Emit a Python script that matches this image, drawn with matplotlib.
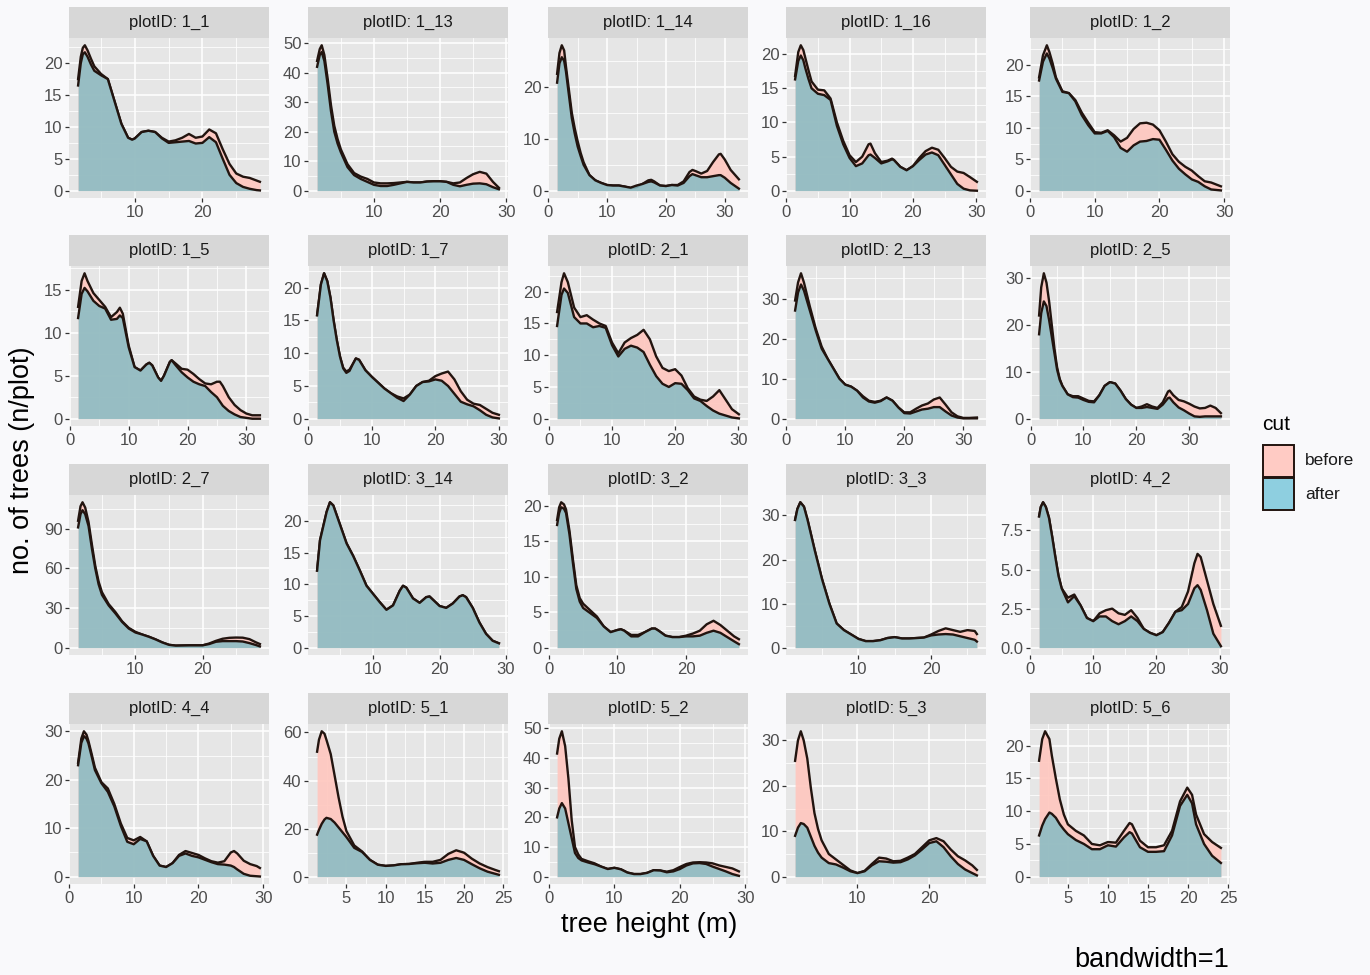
import matplotlib
matplotlib.use("Agg")
import matplotlib.pyplot as plt
from matplotlib.patches import Rectangle

plt.rcParams["font.family"] = ["Liberation Sans", "DejaVu Sans"]

# ---- density curves: height (m), before, after ----
h_1_1 = [1.6, 2, 2.3, 2.6, 3, 3.5, 4, 5, 6, 7, 8, 9, 9.6, 10, 11, 12, 13, 14, 15, 16, 17, 18, 19, 20, 21, 22, 23, 24, 25, 26, 27, 28, 28.5]
b_1_1 = [17.5, 21, 22.4, 22.8, 22, 20.7, 19.5, 18.3, 17.5, 14, 10.5, 8.3, 8.0, 8.2, 9.2, 9.4, 9.2, 8.3, 7.7, 7.9, 8.3, 8.9, 8.3, 8.5, 9.6, 9.0, 6.5, 4.2, 2.7, 2.2, 2.0, 1.6, 1.4]
a_1_1 = [16.5, 20, 21.4, 21.7, 21, 19.8, 18.8, 18.1, 17.5, 14, 10.5, 8.3, 8.0, 8.2, 9.2, 9.4, 9.2, 8.2, 7.5, 7.6, 7.7, 7.8, 7.4, 7.5, 8.4, 7.6, 5.0, 2.5, 1.2, 0.6, 0.3, 0.1, 0.05]

h_1_13 = [1.4, 1.8, 2.1, 2.5, 3, 3.5, 4, 4.5, 5, 6, 7, 8, 9, 10, 11, 12, 13, 14, 15, 16, 17, 18, 19, 20, 21, 22, 23, 24, 25, 26, 27, 28, 28.9]
b_1_13 = [44, 48, 49.3, 46, 38, 29, 22, 17.5, 14, 9, 6, 4.8, 4.0, 2.8, 2.5, 2.5, 2.6, 2.8, 3.0, 2.8, 2.8, 3.1, 3.2, 3.2, 3.0, 2.5, 2.8, 4.3, 5.6, 6.4, 5.8, 3.0, 1.0]
a_1_13 = [42, 46, 47, 44, 36, 27, 20, 16, 13, 8, 5.3, 4.0, 3.0, 2.0, 1.6, 1.6, 2.0, 2.5, 3.0, 2.8, 2.8, 3.1, 3.2, 3.2, 3.0, 2.0, 1.5, 2.0, 2.4, 2.5, 2.2, 1.2, 0.5]

h_1_14 = [1.5, 1.9, 2.3, 2.7, 3, 3.5, 4, 4.5, 5, 5.5, 6, 7, 8, 9, 10, 11, 12, 13, 14, 15, 16, 17, 17.5, 18, 19, 20, 21, 22, 23, 24, 24.5, 25, 26, 27, 28, 29, 29.3, 30, 31, 32.4]
b_1_14 = [22.5, 26.5, 28, 27, 24, 19.5, 15, 12, 9.5, 7.3, 5.5, 3, 2.0, 1.5, 1.1, 1.0, 1.0, 0.8, 0.5, 0.7, 1.3, 2.0, 2.1, 1.8, 1.0, 0.9, 1.1, 1.1, 1.8, 3.6, 4.0, 3.8, 3.3, 3.8, 5.5, 7.0, 7.1, 6.0, 4.0, 2.2]
a_1_14 = [20.8, 24.5, 25.7, 25, 23, 18.5, 14, 11, 8.5, 6.7, 5, 3, 2.0, 1.5, 1.1, 1.0, 1.0, 0.8, 0.6, 1.0, 1.3, 1.7, 1.8, 1.6, 1.0, 0.9, 1.1, 1.0, 1.5, 2.8, 3.2, 3.0, 2.6, 2.6, 2.8, 3.0, 3.0, 2.5, 1.5, 0.4]

h_1_16 = [1.4, 1.9, 2.3, 2.7, 3, 3.5, 4, 5, 6, 7, 8, 9, 10, 11, 12, 13, 13.3, 14, 15, 16, 16.7, 17, 18, 19, 20, 21, 22, 23, 24, 25, 26, 27, 28, 29, 30.1]
b_1_16 = [16.8, 20.3, 21.3, 20.6, 19.5, 17.7, 16, 14.8, 14.7, 13.5, 10, 7.3, 5.2, 4.2, 5.0, 6.8, 6.9, 5.5, 4.2, 4.4, 4.7, 4.5, 3.5, 3.0, 3.6, 4.8, 5.8, 6.3, 6.0, 4.8, 3.5, 2.8, 2.6, 2.0, 1.3]
a_1_16 = [16.3, 19.0, 19.8, 19.1, 18, 16.4, 15, 14.2, 14.0, 13.3, 9.5, 6.8, 4.8, 3.6, 4.0, 5.2, 5.3, 4.8, 4.0, 4.3, 4.6, 4.5, 3.5, 3.0, 3.6, 4.5, 5.3, 5.6, 5.2, 3.8, 2.4, 1.0, 0.3, 0.05, 0.0]

h_1_2 = [1.4, 2, 2.6, 3, 3.5, 4, 5, 6, 7, 8, 9, 10, 11, 12, 13, 14, 15, 16, 17, 18, 19, 20, 21, 22, 23, 24, 25, 26, 27, 28, 29.5]
b_1_2 = [18.0, 21.5, 23.1, 22, 20.2, 18, 15.8, 15.5, 14.4, 12.4, 10.8, 9.3, 9.2, 9.6, 8.8, 7.8, 8.4, 9.8, 10.7, 10.8, 10.5, 9.6, 7.8, 5.8, 4.6, 3.8, 3.2, 2.3, 1.5, 1.3, 0.7]
a_1_2 = [17.5, 20.5, 21.8, 21, 19.5, 17.8, 15.7, 15.5, 14.2, 12, 10.4, 9.1, 9.1, 9.5, 8.5, 6.8, 6.2, 7.2, 7.8, 7.9, 8.2, 8.1, 6.5, 4.8, 3.5, 2.6, 1.8, 1.4, 0.7, 0.2, 0.05]

h_1_5 = [1.4, 2, 2.5, 3, 4, 5, 6, 7, 8, 8.5, 9, 10, 11, 12, 13, 13.5, 14, 15, 15.5, 16, 17, 17.3, 18, 19, 20, 21, 22, 23, 24, 25, 25.5, 26, 27, 28, 29, 30, 31, 32.3]
b_1_5 = [13.0, 16.0, 16.9, 16.0, 14.6, 13.8, 13.0, 11.8, 12.4, 12.9, 12.2, 8.5, 6.0, 5.6, 6.3, 6.5, 6.2, 4.8, 4.4, 5.0, 6.6, 6.8, 6.4, 5.8, 5.7, 5.2, 4.6, 4.1, 4.0, 4.3, 4.3, 3.8, 2.5, 1.6, 1.0, 0.6, 0.4, 0.4]
a_1_5 = [11.7, 14.5, 15.2, 14.8, 13.7, 13.1, 12.8, 11.5, 11.6, 12.0, 11.7, 8.3, 6.0, 5.6, 6.3, 6.5, 6.2, 4.8, 4.4, 5.0, 6.6, 6.8, 6.2, 5.4, 4.8, 4.3, 4.0, 3.8, 3.1, 2.5, 2.0, 1.5, 0.9, 0.5, 0.2, 0.1, 0.0, 0.0]

h_1_7 = [1.4, 2, 2.5, 3, 3.5, 4, 4.5, 5, 5.5, 6, 6.5, 7, 7.5, 8, 9, 10, 11, 12, 13, 14, 15, 16, 17, 18, 19, 20, 21, 22, 23, 24, 25, 26, 27, 28, 29, 30]
b_1_7 = [15.8, 20.5, 22.2, 21, 18.5, 15, 12, 9.5, 7.8, 7.2, 7.5, 8.3, 9.2, 9.0, 7.4, 6.4, 5.5, 4.6, 3.9, 3.4, 3.1, 3.7, 5.0, 5.6, 5.8, 6.5, 6.9, 7.2, 6.0, 4.2, 2.9, 2.3, 2.1, 1.5, 0.9, 0.6]
a_1_7 = [15.8, 20.5, 22.2, 21, 18.5, 15, 12, 9.5, 7.7, 7.0, 7.3, 8.3, 9.2, 9.0, 7.4, 6.4, 5.5, 4.6, 3.9, 3.2, 2.7, 3.7, 5.0, 5.6, 5.7, 6.0, 5.8, 5.0, 3.8, 2.6, 2.2, 1.9, 1.3, 0.6, 0.2, 0.05]

h_2_1 = [1.3, 2, 2.4, 3, 4, 5, 6, 7, 8, 9, 10, 11, 12, 13, 14, 15, 16, 17, 18, 19, 20, 21, 22, 23, 24, 25, 26, 27, 28, 29, 30.1]
b_2_1 = [16.8, 21.5, 22.9, 21.5, 17.5, 16.0, 16.3, 15.6, 15.0, 14.6, 12.0, 10.3, 12.0, 12.7, 13.2, 14.0, 12.5, 9.8, 8.0, 7.5, 7.8, 6.8, 4.8, 3.5, 3.0, 2.8, 3.5, 4.5, 3.0, 1.5, 0.7]
a_2_1 = [14.6, 19.5, 20.5, 19.8, 16.0, 15.0, 15.0, 14.4, 14.6, 14.3, 11.6, 9.8, 11.0, 11.5, 11.2, 10.5, 8.5, 6.7, 5.5, 5.0, 5.6, 5.5, 4.5, 3.2, 2.8, 2.0, 1.3, 0.8, 0.5, 0.2, 0.05]

h_2_13 = [1.5, 2, 2.5, 3, 3.5, 4, 5, 6, 7, 8, 9, 10, 11, 12, 13, 14, 15, 16, 17, 18, 19, 20, 21, 22, 23, 24, 25, 26, 27, 28, 29, 30, 31, 32.3]
b_2_13 = [29.5, 34, 36.3, 34, 31, 28, 22.5, 18, 15, 12.5, 10, 8.5, 8.0, 7.0, 5.6, 4.5, 4.2, 4.5, 5.3, 4.5, 2.8, 1.6, 1.6, 2.5, 3.3, 3.8, 4.8, 5.3, 3.5, 1.6, 0.6, 0.2, 0.2, 0.3]
a_2_13 = [27, 31.5, 33.5, 32, 29.5, 27, 22, 17.5, 15, 12.5, 10, 8.5, 8.0, 7.0, 5.3, 4.3, 4.0, 4.4, 5.3, 4.5, 2.8, 1.4, 1.3, 1.8, 2.3, 2.5, 2.9, 2.9, 1.8, 0.8, 0.3, 0.1, 0.1, 0.1]

h_2_5 = [1.6, 2, 2.5, 3, 3.5, 4, 4.5, 5, 5.5, 6, 7, 8, 9, 10, 11, 12, 13, 14, 15, 16, 17, 18, 19, 20, 21, 22, 23, 24, 25, 26, 26.3, 27, 28, 29, 30, 31, 32, 33, 34, 35, 36]
b_2_5 = [22, 28, 31, 29, 25, 20, 15, 11, 8.5, 7, 5.2, 4.8, 4.8, 4.3, 3.8, 3.7, 5.0, 7.0, 7.8, 7.5, 6.0, 4.2, 3.0, 2.3, 2.6, 3.1, 2.6, 2.3, 3.5, 5.8, 6.0, 5.0, 4.0, 3.7, 3.2, 2.6, 2.2, 2.3, 2.8, 2.3, 1.2]
a_2_5 = [18, 22.5, 25, 24, 21, 17.5, 14, 10.5, 8.3, 7, 5.2, 4.6, 4.5, 4.0, 3.6, 3.5, 5.0, 7.0, 7.8, 7.5, 6.0, 4.2, 3.0, 2.3, 2.3, 2.5, 2.3, 2.1, 3.0, 4.4, 4.5, 3.5, 2.4, 1.8, 1.1, 0.5, 0.4, 0.5, 0.5, 0.5, 0.5]

h_2_7 = [1.44, 1.8, 2.1, 2.5, 3, 3.5, 4, 4.5, 5, 6, 7, 8, 9, 10, 11, 12, 13, 14, 15, 16, 17, 18, 19, 20, 21, 22, 23, 24, 25, 26, 27, 28, 28.56]
b_2_7 = [96, 107, 110, 106, 95, 78, 62, 50, 42, 33, 27, 20, 15, 12, 10, 8.3, 6.3, 4.0, 2.2, 1.6, 1.7, 1.8, 1.8, 1.8, 3.2, 5.2, 6.8, 7.5, 7.7, 7.6, 6.5, 4.0, 2.8]
a_2_7 = [91, 101, 104, 101, 92, 75, 60, 48, 40, 32, 26, 19.5, 14.5, 11.5, 10, 8.3, 6.3, 4.0, 2.2, 1.6, 1.7, 1.8, 1.8, 1.8, 2.8, 4.5, 5.0, 5.0, 5.0, 4.7, 3.5, 2.0, 1.0]

h_3_14 = [1.56, 2, 3, 3.5, 4, 5, 6, 7, 8, 9, 10, 11, 12, 13, 14, 14.5, 15, 16, 17, 18, 18.5, 19, 20, 21, 22, 23, 23.5, 24, 25, 26, 27, 28, 28.94]
b_3_14 = [12.2, 17, 21.5, 23, 22.5, 19.5, 16.5, 14.5, 12.2, 9.8, 8.5, 7.2, 6.0, 6.7, 9.0, 9.8, 9.5, 7.8, 7.1, 8.0, 8.1, 7.6, 6.6, 6.3, 7.0, 8.1, 8.3, 8.0, 6.3, 4.0, 2.2, 1.1, 0.7]
a_3_14 = [12.2, 17, 21.5, 23, 22.5, 19.5, 16.5, 14.5, 12.2, 9.8, 8.5, 7.2, 6.0, 6.7, 9.0, 9.8, 9.5, 7.8, 7.1, 8.0, 8.1, 7.6, 6.6, 6.3, 7.0, 8.1, 8.3, 8.0, 6.3, 4.0, 2.2, 1.1, 0.7]

h_3_2 = [1.2, 1.5, 1.8, 2.2, 2.5, 3, 3.5, 4, 4.5, 5, 6, 7, 8, 9, 10, 10.5, 11, 12, 13, 14, 15, 15.5, 16, 17, 18, 19, 20, 21, 22, 23, 24, 25, 26, 27, 27.7]
b_3_2 = [18.0, 19.8, 20.5, 20.2, 19.5, 16.5, 12.5, 8.8, 7.0, 6.2, 5.3, 4.4, 3.0, 2.2, 2.5, 2.6, 2.4, 1.8, 1.8, 2.2, 2.7, 2.7, 2.4, 1.7, 1.5, 1.5, 1.7, 2.0, 2.4, 3.3, 3.8, 3.2, 2.4, 1.6, 1.2]
a_3_2 = [17.3, 19.0, 19.8, 19.6, 19.0, 16.0, 12.0, 8.3, 6.5, 5.6, 4.9, 4.2, 3.0, 2.2, 2.5, 2.6, 2.4, 1.6, 1.6, 2.2, 2.7, 2.7, 2.4, 1.7, 1.5, 1.5, 1.6, 1.6, 1.7, 2.1, 2.4, 2.1, 1.5, 0.9, 0.5]

h_3_3 = [1.28, 1.6, 2, 2.5, 3, 4, 5, 6, 7, 8, 9, 10, 11, 12, 13, 14, 15, 16, 17, 18, 19, 20, 21, 22, 23, 24, 25, 26, 26.3]
b_3_3 = [29, 31.5, 33, 32, 29, 22, 15.5, 10, 5.5, 4.0, 3.0, 2.0, 1.5, 1.5, 1.7, 2.2, 2.4, 2.1, 2.1, 2.2, 2.3, 3.0, 3.8, 4.4, 4.0, 3.6, 4.0, 3.8, 3.1]
a_3_3 = [29, 31.5, 33, 32, 29, 22, 15.5, 10, 5.5, 4.0, 3.0, 2.0, 1.5, 1.5, 1.7, 2.2, 2.4, 2.1, 2.1, 2.2, 2.3, 2.8, 3.0, 3.1, 3.0, 2.6, 2.2, 1.8, 1.4]

h_4_2 = [1.43, 1.7, 2.06, 2.5, 3, 3.5, 4, 4.5, 5, 6, 7, 8, 9, 10, 11, 12, 13, 14, 15, 16, 17, 18, 19, 20, 21, 22, 23, 24, 25, 26, 26.5, 27, 28, 29, 30.2]
b_4_2 = [8.4, 9.0, 9.3, 9.0, 8.3, 7.1, 5.8, 4.6, 3.8, 3.2, 3.4, 2.7, 1.9, 1.7, 2.2, 2.4, 2.5, 2.2, 2.1, 2.4, 1.9, 1.2, 0.95, 0.8, 1.0, 1.6, 2.3, 2.6, 3.6, 5.4, 6.0, 5.8, 4.3, 2.8, 1.4]
a_4_2 = [8.4, 9.0, 9.3, 9.0, 8.3, 7.1, 5.8, 4.6, 3.8, 2.9, 3.3, 2.7, 1.9, 1.7, 2.0, 2.0, 1.7, 1.5, 1.7, 2.0, 1.7, 1.2, 0.95, 0.8, 1.0, 1.6, 2.3, 2.4, 2.8, 3.8, 4.0, 3.7, 2.4, 0.9, 0.1]

h_4_4 = [1.4, 1.9, 2.3, 2.7, 3, 3.5, 4, 5, 6, 7, 8, 9, 10, 11, 12, 13, 14, 15, 16, 17, 18, 19, 20, 21, 22, 23, 24, 25, 25.5, 26, 27, 28, 29, 29.5]
b_4_4 = [23.5, 28.5, 30, 29.3, 28, 25.3, 22.5, 19.5, 18.2, 15, 11, 8, 7.5, 8.2, 7.3, 4.3, 2.3, 2.0, 2.8, 4.5, 5.3, 4.9, 4.5, 3.8, 3.2, 2.9, 3.2, 5.0, 5.3, 4.8, 3.3, 2.6, 2.2, 1.8]
a_4_4 = [23, 27.6, 29, 28.5, 27.5, 24.8, 22, 19.3, 17.5, 14.5, 10.5, 7.2, 6.7, 7.8, 7.3, 4.3, 2.3, 2.0, 2.8, 4.3, 4.8, 4.3, 4.0, 3.5, 3.0, 2.6, 2.5, 2.3, 2.0, 1.5, 0.6, 0.2, 0.1, 0.05]

h_5_1 = [1.26, 1.5, 1.85, 2.2, 2.45, 3, 3.5, 4, 4.5, 5, 6, 7, 8, 9, 10, 11, 12, 13, 14, 15, 16, 17, 18, 19, 20, 21, 22, 23, 24, 24.45]
b_5_1 = [52, 57, 60.5, 59.5, 57, 51, 42, 33, 25, 19, 13, 10.5, 7, 5, 4.5, 4.7, 5.2, 5.3, 5.8, 6.2, 6.2, 7, 9.5, 11, 10, 7.5, 5.5, 4.0, 2.8, 2.3]
a_5_1 = [17.5, 19.5, 22, 23.8, 24.5, 24, 22.5, 20.5, 18.5, 16.5, 12, 10.3, 7, 5, 4.5, 4.7, 5.2, 5.3, 5.6, 5.8, 5.5, 5.8, 7.0, 7.8, 7.0, 5.2, 3.5, 2.1, 1.2, 0.8]

h_5_2 = [1.27, 1.6, 2.0, 2.5, 3, 3.5, 4, 4.5, 5, 6, 7, 8, 9, 10, 11, 12, 13, 14, 15, 16, 17, 18, 19, 20, 21, 22, 23, 24, 25, 26, 27, 28, 29]
b_5_2 = [41.5, 46.5, 49, 44, 33, 19, 10, 7.5, 6, 5.2, 4.5, 3.4, 2.6, 3.0, 2.5, 1.4, 0.9, 0.9, 1.3, 2.2, 2.1, 1.7, 2.2, 3.3, 4.3, 4.8, 4.9, 4.8, 4.5, 3.8, 3.3, 2.8, 1.8]
a_5_2 = [20, 23, 24.8, 23, 18, 13, 8, 6.3, 5.5, 4.8, 4.2, 3.4, 2.6, 3.0, 2.5, 1.4, 0.9, 0.9, 1.3, 2.2, 2.1, 1.5, 1.8, 2.6, 3.8, 4.5, 4.6, 4.3, 3.4, 2.6, 1.8, 0.9, 0.3]

h_5_3 = [1.3, 1.7, 2.1, 2.5, 3, 3.5, 4, 4.5, 5, 6, 7, 8, 9, 10, 11, 12, 13, 14, 15, 16, 17, 18, 19, 20, 21, 22, 23, 24, 25, 26, 26.65]
b_5_3 = [25.5, 30, 32, 30, 26, 19.5, 14, 10.5, 8, 5.0, 3.8, 2.6, 1.4, 0.8, 1.3, 2.8, 4.2, 4.0, 3.4, 3.5, 4.2, 5.0, 6.5, 8.0, 8.5, 7.8, 6.0, 4.5, 3.6, 2.5, 1.5]
a_5_3 = [9, 10.8, 11.8, 11.6, 10.8, 8.8, 6.8, 5.3, 4.2, 3.0, 2.7, 2.0, 1.2, 0.8, 1.2, 2.5, 3.4, 3.3, 3.1, 3.2, 3.8, 4.7, 6.0, 7.4, 7.8, 6.5, 4.5, 2.8, 1.6, 0.8, 0.3]

h_5_6 = [1.41, 1.8, 2.16, 2.7, 3, 3.5, 4, 4.5, 5, 6, 7, 8, 9, 10, 11, 12, 12.7, 13, 14, 15, 16, 17, 18, 19, 19.9, 20.5, 21, 22, 23, 24.1]
b_5_6 = [17.7, 21, 22.2, 21, 18.5, 15, 11.8, 9.5, 8.0, 7.0, 6.3, 5.0, 4.8, 5.3, 5.2, 7.0, 8.2, 8.0, 5.5, 4.5, 4.5, 4.8, 7.0, 11.5, 13.6, 12.5, 9.5, 6.5, 5.3, 4.4]
a_5_6 = [6.3, 7.8, 8.8, 9.8, 9.6, 9.0, 8.0, 7.2, 6.5, 5.6, 5.0, 4.2, 4.2, 4.8, 4.6, 6.0, 6.8, 6.6, 4.5, 3.8, 3.8, 3.9, 6.3, 10.8, 12.5, 11.2, 8.0, 5.0, 3.2, 2.1]

# axis breaks used by the facets
X_TENS = [0, 10, 20, 30]
X_FIVES = [5, 10, 15, 20, 25]
Y_5 = [0, 5, 10, 15, 20]
Y_10 = [0, 10, 20, 30]
Y_10_50 = [0, 10, 20, 30, 40, 50]
Y_20 = [0, 20, 40, 60]
Y_30 = [0, 30, 60, 90]
Y_25 = [0.0, 2.5, 5.0, 7.5]

panels = [
    ("1_1", h_1_1, b_1_1, a_1_1, X_TENS, Y_5),
    ("1_13", h_1_13, b_1_13, a_1_13, X_TENS, Y_10_50),
    ("1_14", h_1_14, b_1_14, a_1_14, X_TENS, Y_10),
    ("1_16", h_1_16, b_1_16, a_1_16, X_TENS, Y_5),
    ("1_2", h_1_2, b_1_2, a_1_2, X_TENS, Y_5),
    ("1_5", h_1_5, b_1_5, a_1_5, X_TENS, Y_5),
    ("1_7", h_1_7, b_1_7, a_1_7, X_TENS, Y_5),
    ("2_1", h_2_1, b_2_1, a_2_1, X_TENS, Y_5),
    ("2_13", h_2_13, b_2_13, a_2_13, X_TENS, Y_10),
    ("2_5", h_2_5, b_2_5, a_2_5, X_TENS, Y_10),
    ("2_7", h_2_7, b_2_7, a_2_7, X_TENS, Y_30),
    ("3_14", h_3_14, b_3_14, a_3_14, X_TENS, Y_5),
    ("3_2", h_3_2, b_3_2, a_3_2, X_TENS, Y_5),
    ("3_3", h_3_3, b_3_3, a_3_3, X_TENS, Y_10),
    ("4_2", h_4_2, b_4_2, a_4_2, X_TENS, Y_25),
    ("4_4", h_4_4, b_4_4, a_4_4, X_TENS, Y_10),
    ("5_1", h_5_1, b_5_1, a_5_1, X_FIVES, Y_20),
    ("5_2", h_5_2, b_5_2, a_5_2, X_TENS, Y_10_50),
    ("5_3", h_5_3, b_5_3, a_5_3, X_TENS, Y_10),
    ("5_6", h_5_6, b_5_6, a_5_6, X_FIVES, Y_5),
]

# ---- look ----
BG = "#F9F9FB"
PANEL = "#E6E6E6"
STRIP = "#D7D7D7"
PINK = "#FFC6BE"
BLUE = "#86BCC4"
LINE = "#22140F"

W, H = 1370, 975
col_left = [69, 308, 548, 786, 1030]
strip_top = [7, 235, 464, 693]
PW, SH, PH = 200, 31, 160

fig = plt.figure(figsize=(W / 100, H / 100), dpi=100, facecolor=BG)


def px_axes(x, y, w, h):
    return fig.add_axes([x / W, 1 - (y + h) / H, w / W, h / H])


def minor_of(ticks):
    d = ticks[1] - ticks[0]
    return [t - d / 2 for t in ticks] + [ticks[-1] + d / 2]


for i, (pid, hh, bb, aa, xt, yt) in enumerate(panels):
    r, c = divmod(i, 5)
    x0, y0 = col_left[c], strip_top[r]

    st = px_axes(x0, y0, PW, SH)
    st.set_facecolor(STRIP)
    st.set_xticks([])
    st.set_yticks([])
    for s in st.spines.values():
        s.set_visible(False)
    st.text(0.5, 0.5, f"plotID: {pid}", ha="center", va="center",
            fontsize=12, color="#1A1A1A", transform=st.transAxes)

    ax = px_axes(x0, y0 + SH, PW, PH)
    ax.set_facecolor(PANEL)
    ax.fill_between(hh, bb, 0, color=PINK, alpha=0.9, lw=0, zorder=1)
    ax.plot(hh, bb, color=LINE, lw=1.7, zorder=2, solid_joinstyle="round")
    ax.fill_between(hh, aa, 0, color=BLUE, alpha=0.85, lw=0, zorder=3)
    ax.plot(hh, aa, color=LINE, lw=1.7, zorder=4, solid_joinstyle="round")
    ax.margins(x=0.05, y=0.05)
    xl, yl = ax.get_xlim(), ax.get_ylim()

    ax.set_xticks(xt)
    ax.set_xticks(minor_of(xt), minor=True)
    ax.set_yticks(yt)
    ax.set_yticks(minor_of(yt), minor=True)
    if any(t != int(t) for t in yt):
        ax.set_yticklabels([f"{t:.1f}" for t in yt])
    ax.set_xlim(xl)
    ax.set_ylim(yl)

    ax.set_axisbelow(True)
    ax.grid(which="major", color="white", lw=1.1)
    ax.grid(which="minor", color="white", lw=0.55)
    for s in ax.spines.values():
        s.set_visible(False)
    ax.tick_params(which="major", length=2.7, width=0.9, color="#333333",
                   labelsize=12, labelcolor="#4D4D4D", pad=2)
    ax.tick_params(which="minor", length=0)

# titles
fig.text(649 / W, 1 - 925 / H, "tree height (m)", ha="center", va="center",
         fontsize=19.5, color="black")
fig.text(22 / W, 1 - 460 / H, "no. of trees (n/plot)", ha="center", va="center",
         rotation=90, fontsize=19.5, color="black")
fig.text(1229 / W, 1 - 960 / H, "bandwidth=1", ha="right", va="center",
         fontsize=19.5, color="black")

# legend
fig.text(1262 / W, 1 - 424 / H, "cut", ha="left", va="center", fontsize=15)
for k, (lab, col) in enumerate([("before", "#FFCBC4"), ("after", "#8ECFE0")]):
    top = 445 + k * 33
    fig.patches.append(Rectangle((1263 / W, 1 - (top + 32) / H), 31 / W, 32 / H,
                                 transform=fig.transFigure, facecolor=col,
                                 edgecolor=LINE, lw=1.4))
    fig.text(1305 / W, 1 - (top + 16) / H, lab, ha="left", va="center",
             fontsize=12.5, color="#1A1A1A")

fig.savefig("out.png", dpi=100, facecolor=BG)
